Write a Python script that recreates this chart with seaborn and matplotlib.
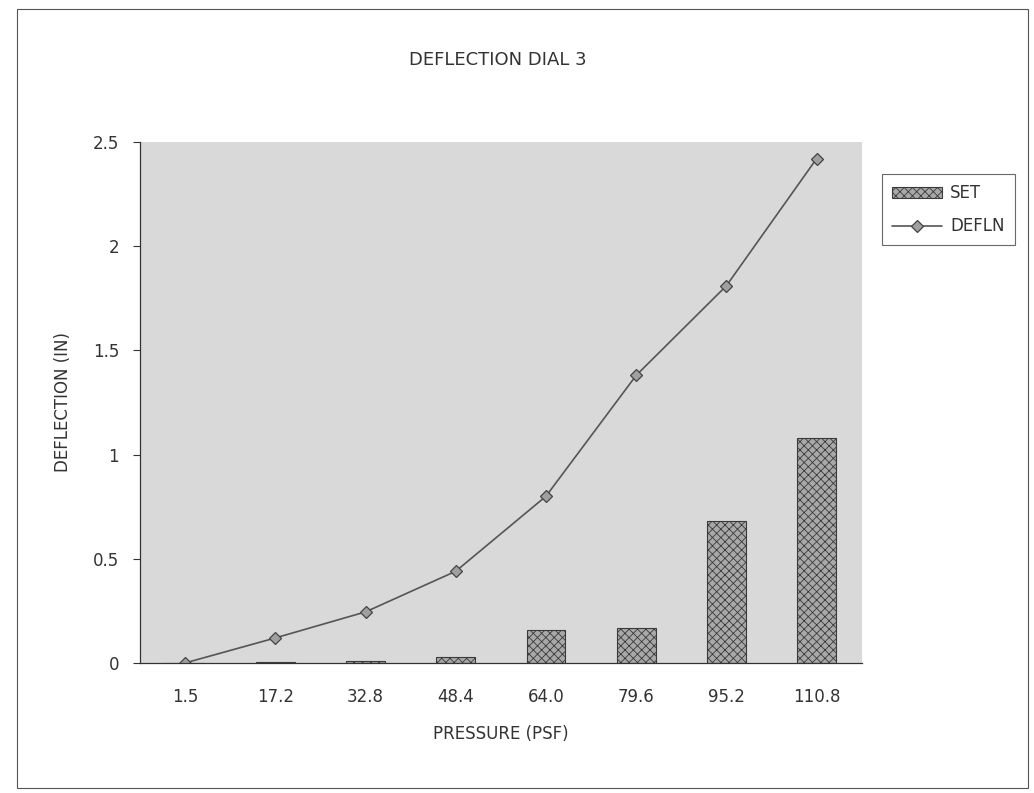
import matplotlib
matplotlib.use("Agg")
import matplotlib.pyplot as plt
import numpy as np
import pandas as pd
import seaborn as sns

pressure = ["1.5", "17.2", "32.8", "48.4", "64.0", "79.6", "95.2", "110.8"]
set_vals = [0.0, 0.005, 0.01, 0.03, 0.16, 0.17, 0.68, 1.08]
defln_vals = [0.0, 0.12, 0.245, 0.44, 0.80, 1.38, 1.81, 2.42]
y_ticks = [0, 0.5, 1, 1.5, 2, 2.5]
y_tick_labels = ["0", "0.5", "1", "1.5", "2", "2.5"]

sns.set_theme(style="white")
plt.rcParams["font.family"] = ["DejaVu Sans"]
plt.rcParams["hatch.color"] = "#555555"
plt.rcParams["hatch.linewidth"] = 0.6

df = pd.DataFrame({"PRESSURE": pressure, "SET": set_vals, "DEFLN": defln_vals})

fig = plt.figure(figsize=(10.34, 7.93), dpi=100)
ax = fig.add_axes([0.1354, 0.164, 0.698, 0.657])
ax.set_facecolor("#d9d9d9")

sns.barplot(data=df, x="PRESSURE", y="SET", order=pressure, ax=ax,
            color="#a8a8a8", width=0.43, edgecolor="#3a3a3a", linewidth=0.8,
            hatch="xxxx", label="SET")
sns.pointplot(data=df, x="PRESSURE", y="DEFLN", order=pressure, ax=ax,
              color="#555555", markers="D", linestyles="-", markersize=6,
              linewidth=1.2, label="DEFLN")
for line in ax.lines:
    line.set_markerfacecolor("#a0a0a0")
    line.set_markeredgecolor("#444444")
if ax.get_legend() is not None:
    ax.get_legend().remove()

ax.set_xlim(-0.5, len(pressure) - 0.5)
ax.set_ylim(0, 2.5)
ax.set_yticks(y_ticks)
ax.set_yticklabels(y_tick_labels)
ax.set_xticks(np.arange(len(pressure)))
ax.set_xticklabels(pressure)
ax.set_xticks(np.arange(len(pressure) + 1) - 0.5, minor=True)
ax.tick_params(axis="x", which="major", length=0, pad=18, labelsize=12, labelcolor="#333333")
ax.tick_params(axis="x", which="minor", length=5, width=0.8, color="#333333", direction="out")
ax.tick_params(axis="y", length=5, width=0.8, color="#333333", direction="out",
               labelsize=12, labelcolor="#333333", left=True, pad=10)

for side in ["top", "right"]:
    ax.spines[side].set_visible(False)
for side in ["left", "bottom"]:
    ax.spines[side].set_color("#333333")
    ax.spines[side].set_linewidth(0.9)

ax.set_xlabel("PRESSURE (PSF)", fontsize=12, color="#333333")
ax.set_ylabel("DEFLECTION (IN)", fontsize=12, color="#333333")
ax.xaxis.set_label_coords(0.5, -0.119)
ax.yaxis.set_label_coords(-0.094, 0.5)
fig.text(0.481, 0.924, "DEFLECTION DIAL 3", ha="center", va="center",
         fontsize=13, color="#333333")

handles, labels = ax.get_legend_handles_labels()
order = [labels.index("SET"), labels.index("DEFLN")]
leg = fig.legend([handles[i] for i in order], [labels[i] for i in order],
                 loc="upper left", bbox_to_anchor=(0.853, 0.780),
                 frameon=True, fancybox=False, fontsize=12, labelcolor="#333333",
                 handlelength=3.0, handletextpad=0.5, borderpad=0.6, labelspacing=0.9,
                 borderaxespad=0)
leg.get_frame().set_edgecolor("#444444")
leg.get_frame().set_linewidth(0.8)

# outer chart border
fig.patches.append(plt.Rectangle((0.0165, 0.006), 0.978, 0.983, transform=fig.transFigure,
                                 fill=False, edgecolor="#555555", linewidth=0.8))

fig.savefig("out.png", dpi=100, facecolor="white")
